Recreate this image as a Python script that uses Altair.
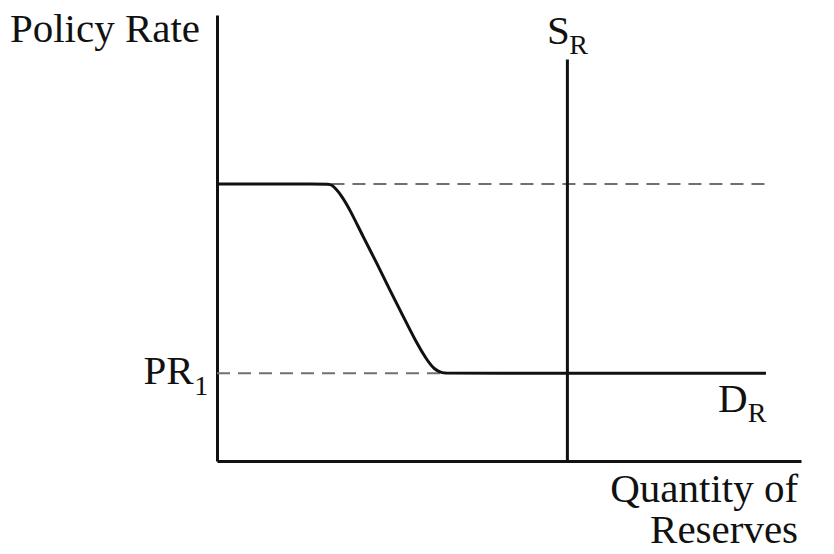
import altair as alt
import pandas as pd

# Demand curve for reserves (quantity, policy rate)
demand_q = [0.0, 1.90, 1.96, 2.11, 2.28, 2.50, 2.74, 2.96, 3.19, 3.42, 3.59, 3.73, 3.85, 3.92, 4.00, 9.40]
demand_r = [6.21, 6.21, 6.21, 6.00, 5.63, 5.03, 4.43, 3.83, 3.24, 2.64, 2.27, 2.04, 1.98, 1.97, 1.97, 1.97]

# Vertical supply of reserves
supply_q = [6.0, 6.0]
supply_r = [0.0, 9.0]

# Dashed reference lines
upper_q = [1.96, 9.40]
upper_r = [6.21, 6.21]
lower_q = [0.0, 3.92]
lower_r = [1.97, 1.97]

# Labels
big_text = ["Policy Rate", "S", "PR", "D"]
big_q = [-0.29, 5.65, -0.40, 8.58]
big_r = [9.39, 9.35, 1.73, 1.10]
big_align = ["right", "left", "right", "left"]

sub_text = ["R", "1", "R"]
sub_q = [6.03, -0.39, 9.09]
sub_r = [9.13, 1.48, 0.87]

xtitle = ["Quantity of", "Reserves"]
xtitle_q = [9.95, 9.95]
xtitle_r = [-0.92, -1.84]

FONT = "Liberation Serif"
xs = alt.Scale(domain=[0, 10], nice=False, zero=False)
ys = alt.Scale(domain=[0, 10], nice=False, zero=False)
xax = alt.Axis(title=None, labels=False, ticks=False, grid=False,
               domainColor="#111", domainWidth=3)
yax = alt.Axis(title=None, labels=False, ticks=False, grid=False,
               domainColor="#111", domainWidth=3)


def enc(chart, **extra):
    return chart.encode(
        x=alt.X("q:Q", scale=xs, axis=xax),
        y=alt.Y("r:Q", scale=ys, axis=yax),
        **extra,
    )


upper = enc(alt.Chart(pd.DataFrame({"q": upper_q, "r": upper_r})).mark_line(
    color="#707070", strokeWidth=2, strokeDash=[13, 8]))
lower = enc(alt.Chart(pd.DataFrame({"q": lower_q, "r": lower_r})).mark_line(
    color="#707070", strokeWidth=2, strokeDash=[13, 8]))

demand = enc(alt.Chart(pd.DataFrame({"q": demand_q, "r": demand_r, "o": list(range(len(demand_q)))}))
             .mark_line(color="#111", strokeWidth=3, interpolate="basis"), order="o:O")

supply = enc(alt.Chart(pd.DataFrame({"q": supply_q, "r": supply_r})).mark_line(
    color="#111", strokeWidth=3))

big_df = pd.DataFrame({"q": big_q, "r": big_r, "t": big_text, "a": big_align})
big_left = enc(alt.Chart(big_df[big_df.a == "left"]).mark_text(
    font=FONT, fontSize=41, align="left", baseline="alphabetic", color="#111"), text="t:N")
big_right = enc(alt.Chart(big_df[big_df.a == "right"]).mark_text(
    font=FONT, fontSize=41, align="right", baseline="alphabetic", color="#111"), text="t:N")

subs = enc(alt.Chart(pd.DataFrame({"q": sub_q, "r": sub_r, "t": sub_text})).mark_text(
    font=FONT, fontSize=28, align="left", baseline="alphabetic", color="#111"), text="t:N")

xt = enc(alt.Chart(pd.DataFrame({"q": xtitle_q, "r": xtitle_r, "t": xtitle})).mark_text(
    font=FONT, fontSize=41, align="right", baseline="alphabetic", color="#111"), text="t:N")

chart = alt.layer(upper, lower, demand, supply, big_left, big_right, subs, xt).properties(
    width=584, height=446,
    autosize=alt.AutoSizeParams(type="none"),
    padding={"left": 209, "top": 7, "right": 25, "bottom": 100},
    background="white",
).configure_view(strokeWidth=0)

chart.save("out.html", embed_options={"renderer": "svg", "actions": False})
